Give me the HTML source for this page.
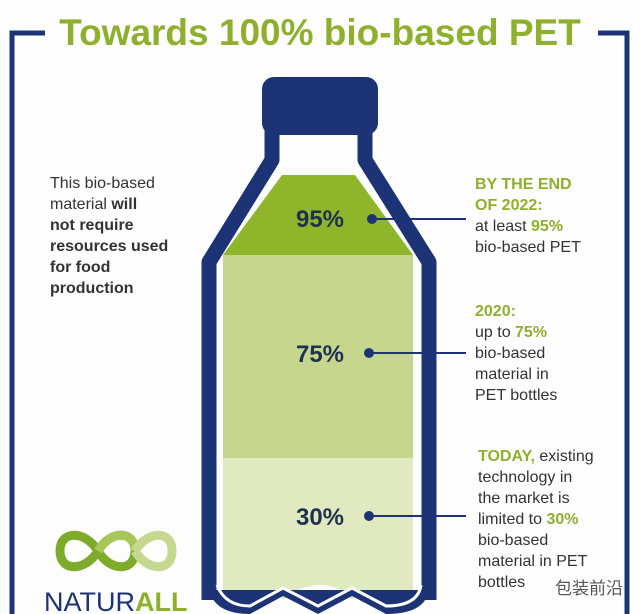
<!DOCTYPE html>
<html><head><meta charset="utf-8"><style>
body{margin:0;background:#fff;}
.w{position:relative;width:640px;height:614px;overflow:hidden;background:#fdfdfd;font-family:"Liberation Sans","Noto Sans CJK SC",sans-serif;}
.t{position:absolute;font-size:16px;line-height:21px;color:#333;}
.g{color:#8fb02c;font-weight:bold;}
.b{font-weight:bold;}
</style></head><body><div class="w">
<svg width="640" height="614" style="position:absolute;left:0;top:0">
<path d="M45 33 H12 V614 M598 33 H627 V614" fill="none" stroke="#1c3475" stroke-width="5"/>
<text x="320" y="45" text-anchor="middle" font-family="Liberation Sans" font-weight="bold" font-size="37" fill="#8fb02c">Towards 100% bio-based PET</text>
<!-- fills -->
<path d="M282 175 H355 L413 255 H223 Z" fill="#8fb52a"/>
<rect x="223" y="255" width="190" height="203" fill="#c6d78d"/>
<path d="M223 458 H413 V590 Q395 608 383 600 Q362 585 352 600 Q339 585 320 585 Q300 585 283 600 Q270 585 252 600 Q235 608 223 590 Z" fill="#e1e9c0"/>
<!-- bottle -->
<path d="M272 130 V160 L209 262 V600 M365 130 V160 L429 262 V600" fill="none" stroke="#1c3475" stroke-width="15" stroke-linejoin="round"/>
<path d="M209 590 Q215 614 250 614 L283 596 L318 614 L352 596 L386 614 Q425 614 429 590" fill="#1c3475"/>
<path d="M217 585 Q225 606 250 606 L283 588 L318 606 L352 588 L386 606 Q418 606 421 585" fill="none" stroke="#fff" stroke-width="3"/>
<rect x="262" y="77" width="116" height="58" rx="12" fill="#1c3475"/>
<!-- leaders -->
<g fill="#1c3475" stroke="#1c3475" stroke-width="2">
<circle cx="372" cy="219" r="4"/><line x1="372" y1="219" x2="466" y2="219"/>
<circle cx="369" cy="353" r="4"/><line x1="369" y1="353" x2="466" y2="353"/>
<circle cx="369" cy="516" r="4"/><line x1="369" y1="516" x2="466" y2="516"/>
</g>
<g font-family="Liberation Sans" font-weight="bold" font-size="24" fill="#1f3150" text-anchor="middle">
<text x="320" y="227">95%</text><text x="320" y="362">75%</text><text x="320" y="525">30%</text>
</g>
<!-- logo -->
<g fill="none" stroke-width="9">
<path d="M60 551 C60 530 85 530 98 551 C110 572 135 572 135 551 C135 530 110 530 98 551 C85 572 60 572 60 551Z" stroke="#7fab2a"/>
<path d="M98 551 C110 530 135 530 135 551" stroke="#a8c65a"/>
<path d="M135 551 C148 572 172 572 172 551 C172 530 148 530 135 551" stroke="#c4d890"/>
</g>
<text x="44" y="611" font-family="Liberation Sans" font-size="27" fill="#1c3475">NATUR<tspan fill="#8fb02c" font-weight="bold">ALL</tspan></text>
</svg>
<div class="t" style="left:50px;top:173px">This bio-based<br>material <span class="b">will<br>not require<br>resources used<br>for food<br>production</span></div>
<div class="t" style="left:475px;top:174px"><span class="g">BY THE END<br>OF 2022:</span><br>at least <span class="g">95%</span><br>bio-based PET</div>
<div class="t" style="left:475px;top:301px"><span class="g">2020:</span><br>up to <span class="g">75%</span><br>bio-based<br>material in<br>PET bottles</div>
<div class="t" style="left:478px;top:446px"><span class="g">TODAY,</span> existing<br>technology in<br>the market is<br>limited to <span class="g">30%</span><br>bio-based<br>material in PET<br>bottles</div>
<div class="t" style="left:555px;top:578px;font-size:17px;color:#555">包装前沿</div>
</div></body></html>
